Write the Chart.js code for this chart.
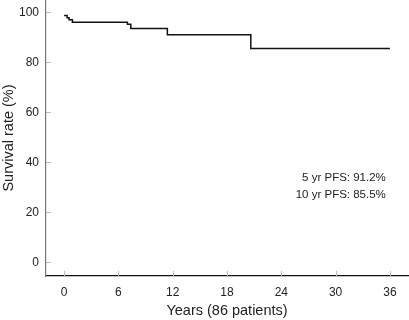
<!DOCTYPE html>
<html>
<head>
<meta charset="utf-8">
<script src="https://cdn.jsdelivr.net/npm/chart.js@4/dist/chart.umd.min.js"></script>
<style>
html,body{margin:0;padding:0;background:#fff;}
#wrap{width:409px;height:320px;position:relative;}
</style>
</head>
<body>
<div id="wrap"><canvas id="c" width="409" height="320"></canvas></div>
<script>
// Kaplan-Meier step curve (time in years, survival %)
const eventTimes = [0, 0.33, 0.55, 0.92, 7.0, 7.37, 11.41, 20.63, 36.0];
const survival   = [98.8, 97.9, 97.1, 96.1, 95.3, 93.6, 91.1, 85.6, 85.6];
const xTickValues = [0, 6, 12, 18, 24, 30, 36];
const yTickValues = [0, 20, 40, 60, 80, 100];
const annotationLines = ["5 yr PFS: 91.2%", "10 yr PFS: 85.5%"];
const xTitle = "Years (86 patients)";
const yTitle = "Survival rate (%)";

const FONT = "'Liberation Sans', Arial, Helvetica, sans-serif";
Chart.defaults.font.family = FONT;
Chart.defaults.color = "#222";

const points = eventTimes.map((t, i) => ({x: t, y: survival[i]}));

const innerTicks = {
  id: 'innerTicks',
  afterDraw(chart) {
    const ctx = chart.ctx;
    const xs = chart.scales.x, ys = chart.scales.y;
    ctx.save();
    ctx.strokeStyle = '#bbb';
    ctx.lineWidth = 1;
    ctx.beginPath();
    yTickValues.forEach(v => {
      const py = Math.round(ys.getPixelForValue(v)) + 0.5;
      ctx.moveTo(xs.left, py); ctx.lineTo(xs.left + 5, py);
    });
    xTickValues.forEach(v => {
      const px = Math.round(xs.getPixelForValue(v)) + 0.5;
      ctx.moveTo(px, ys.bottom); ctx.lineTo(px, ys.bottom - 5);
    });
    ctx.stroke();
    // annotation text
    ctx.fillStyle = '#222';
    ctx.font = "11.5px " + FONT;
    ctx.textAlign = 'right';
    ctx.textBaseline = 'alphabetic';
    const ax = xs.getPixelForValue(35.55);
    ctx.fillText(annotationLines[0], ax, ys.getPixelForValue(32.5));
    ctx.fillText(annotationLines[1], ax, ys.getPixelForValue(25.8));
    ctx.restore();
  }
};

new Chart(document.getElementById('c'), {
  type: 'line',
  data: {
    datasets: [{
      data: points,
      stepped: true,
      borderColor: '#111',
      borderWidth: 1.5,
      pointRadius: 0,
      fill: false
    }]
  },
  options: {
    responsive: false,
    animation: false,
    devicePixelRatio: 1,
    layout: {padding: {left: 0, right: 1, top: 0, bottom: 0}, autoPadding: false},
    plugins: {legend: {display: false}, tooltip: {enabled: false}},
    scales: {
      x: {
        type: 'linear',
        min: -2, max: 38,
        afterBuildTicks: s => { s.ticks = xTickValues.map(v => ({value: v})); },
        afterFit: s => { s.height = 44; s.paddingLeft = 0; s.paddingRight = 0; },
        grid: {display: true, drawOnChartArea: false, drawTicks: false},
        border: {display: true, color: '#111', width: 1.2},
        ticks: {padding: 9, font: {size: 12}, color: '#222', maxRotation: 0},
        title: {display: true, text: xTitle, font: {size: 14.5}, color: '#222', padding: {top: 0, bottom: 0}}
      },
      y: {
        type: 'linear',
        min: -5.5, max: 105,
        afterBuildTicks: s => { s.ticks = yTickValues.map(v => ({value: v})); },
        afterFit: s => { s.width = 46; s.paddingTop = 0; s.paddingBottom = 0; },
        grid: {display: true, drawOnChartArea: false, drawTicks: false},
        border: {display: true, color: '#777', width: 1.2},
        ticks: {padding: 7, font: {size: 12}, color: '#222'},
        title: {display: true, text: yTitle, font: {size: 14.5}, color: '#222', padding: {top: 0, bottom: 0}}
      }
    }
  },
  plugins: [innerTicks]
});
</script>
</body>
</html>
